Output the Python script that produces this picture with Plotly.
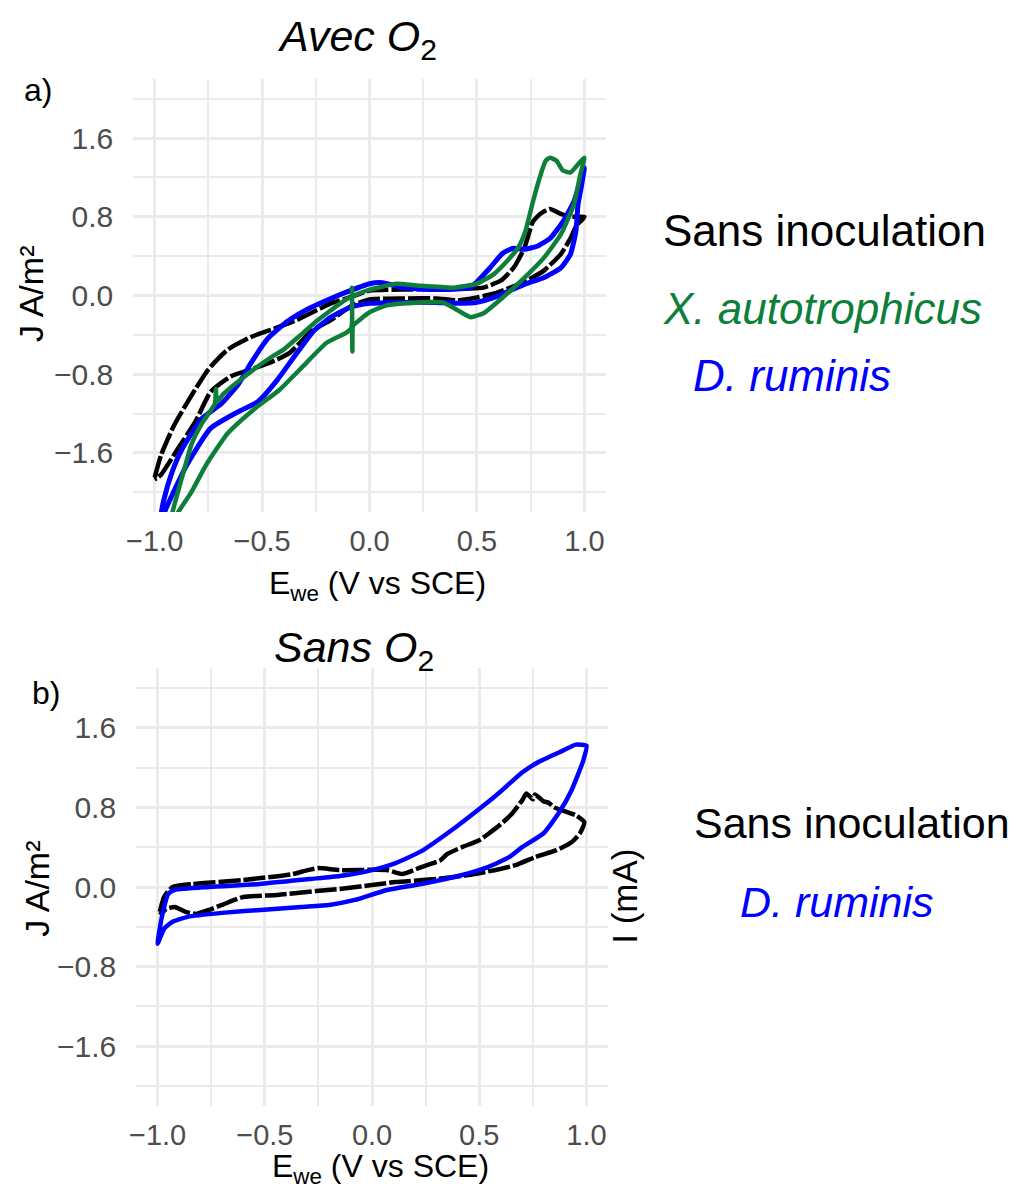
import plotly.graph_objects as go

# ---------------- data ----------------
# Panel a) "Avec O2"
E_a_sans = [-1.00, -0.97, -0.91, -0.83, -0.75, -0.66, -0.55, -0.46, -0.34, -0.18, -0.08, 0.00, 0.16, 0.39, 0.47, 0.53,
            0.61, 0.67, 0.72, 0.76, 0.795, 0.84, 0.89, 0.935, 0.97, 1.00,
            0.985, 0.965, 0.935, 0.89, 0.81, 0.73, 0.655, 0.58, 0.50, 0.41, 0.31, 0.16, 0.00, -0.08, -0.18, -0.27,
            -0.37, -0.46, -0.55, -0.645, -0.74, -0.81, -0.89, -0.97, -1.00]
J_a_sans = [-1.85, -1.62, -1.32, -1.02, -0.75, -0.55, -0.42, -0.35, -0.25, -0.08, -0.01, 0.05, 0.06, 0.07, 0.07, 0.08,
            0.15, 0.28, 0.48, 0.75, 0.83, 0.88, 0.83, 0.80, 0.80, 0.80,
            0.76, 0.72, 0.58, 0.42, 0.25, 0.15, 0.08, 0.02, -0.02, -0.05, -0.03, -0.03, -0.04, -0.10, -0.25, -0.36,
            -0.58, -0.68, -0.75, -0.82, -0.98, -1.28, -1.55, -1.82, -1.87]

E_a_xauto = [-0.935, -0.905, -0.86, -0.83, -0.78, -0.72, -0.715, -0.71, -0.68, -0.58, -0.46, -0.40, -0.32, -0.24,
             -0.18, -0.11, -0.05, 0.00, 0.04, 0.125, 0.23, 0.39, 0.50, 0.58, 0.64, 0.69, 0.725, 0.76, 0.795, 0.82,
             0.84, 0.87, 0.90, 0.935, 0.965, 1.00,
             0.98, 0.95, 0.89, 0.81, 0.72, 0.62, 0.53, 0.47, 0.41, 0.34, 0.23, 0.08, 0.00, -0.075, -0.078, -0.08,
             -0.082, -0.085, -0.11, -0.20, -0.31, -0.42, -0.54, -0.66, -0.76, -0.83, -0.89, -0.92]
J_a_xauto = [-2.35, -2.10, -1.75, -1.52, -1.30, -1.10, -0.95, -1.08, -1.00, -0.82, -0.63, -0.55, -0.40, -0.25,
             -0.15, -0.04, 0.02, 0.06, 0.08, 0.12, 0.10, 0.08, 0.12, 0.22, 0.35, 0.48, 0.65, 0.95, 1.22, 1.37,
             1.40, 1.37, 1.27, 1.25, 1.32, 1.40,
             1.22, 0.92, 0.62, 0.38, 0.18, -0.02, -0.18, -0.22, -0.15, -0.07, -0.07, -0.10, -0.17, -0.30, -0.31, -0.57,
             0.08, -0.33, -0.38, -0.48, -0.72, -0.96, -1.16, -1.40, -1.72, -2.00, -2.20, -2.35]

E_a_drum = [-0.98, -0.96, -0.92, -0.87, -0.78, -0.69, -0.61, -0.55, -0.475, -0.38, -0.28, -0.18, -0.09, 0.00, 0.06,
            0.156, 0.31, 0.47, 0.50, 0.56, 0.62, 0.67, 0.72, 0.78, 0.84, 0.90, 0.95, 0.98, 1.00,
            0.985, 0.97, 0.96, 0.935, 0.89, 0.81, 0.73, 0.655, 0.58, 0.50, 0.42, 0.31, 0.156, 0.00, -0.09, -0.18,
            -0.26, -0.35, -0.43, -0.52, -0.61, -0.74, -0.85, -0.95, -0.975]
J_a_drum = [-2.35, -2.10, -1.80, -1.55, -1.25, -1.10, -0.90, -0.68, -0.44, -0.26, -0.13, -0.03, 0.05, 0.12, 0.13,
            0.08, 0.06, 0.08, 0.14, 0.28, 0.43, 0.48, 0.47, 0.50, 0.58, 0.75, 0.95, 1.15, 1.30,
            1.10, 0.92, 0.65, 0.42, 0.28, 0.18, 0.12, 0.05, -0.02, -0.07, -0.08, -0.07, -0.07, -0.08, -0.12, -0.22,
            -0.36, -0.62, -0.86, -1.08, -1.18, -1.35, -1.72, -2.18, -2.35]

# Panel b) "Sans O2"
E_b_sans = [-0.99, -0.97, -0.93, -0.84, -0.60, -0.37, -0.30, -0.25, -0.15, 0.07, 0.14, 0.23, 0.32, 0.35, 0.42, 0.50,
            0.54, 0.60, 0.65, 0.70, 0.72, 0.75, 0.76, 0.80, 0.82, 0.85, 0.90, 0.95, 0.99,
            0.97, 0.93, 0.86, 0.76, 0.67, 0.48, 0.30, 0.11, 0.00, -0.15, -0.26, -0.44, -0.60, -0.70, -0.76, -0.82,
            -0.87, -0.92, -0.96, -0.99]
J_b_sans = [-0.25, -0.10, 0.00, 0.03, 0.07, 0.13, 0.17, 0.19, 0.17, 0.17, 0.13, 0.20, 0.27, 0.33, 0.40, 0.47,
            0.53, 0.63, 0.73, 0.87, 0.94, 0.88, 0.93, 0.86, 0.85, 0.80, 0.76, 0.72, 0.65,
            0.54, 0.45, 0.37, 0.30, 0.22, 0.13, 0.08, 0.05, 0.02, -0.02, -0.04, -0.08, -0.10, -0.18, -0.23, -0.27,
            -0.25, -0.20, -0.22, -0.28]

E_b_drum = [-1.00, -0.98, -0.95, -0.92, -0.76, -0.525, -0.29, -0.15, 0.00, 0.11, 0.23, 0.39, 0.51, 0.60, 0.70, 0.78,
            0.89, 0.95, 1.00,
            0.985, 0.93, 0.87, 0.80, 0.70, 0.64, 0.54, 0.42, 0.23, 0.07, -0.08, -0.20, -0.33, -0.52, -0.70, -0.86,
            -0.93, -0.97, -1.00]
J_b_drum = [-0.57, -0.30, -0.07, -0.03, 0.00, 0.03, 0.08, 0.11, 0.17, 0.24, 0.36, 0.60, 0.80, 0.96, 1.15, 1.26,
            1.37, 1.43, 1.42,
            1.27, 0.97, 0.74, 0.54, 0.40, 0.30, 0.20, 0.12, 0.03, -0.03, -0.13, -0.18, -0.20, -0.23, -0.26, -0.30,
            -0.35, -0.42, -0.57]

x_ticks = [-1.0, -0.5, 0.0, 0.5, 1.0]
x_minor = [-0.75, -0.25, 0.25, 0.75]
y_ticks = [-1.6, -0.8, 0.0, 0.8, 1.6]
y_minor = [-2.0, -1.2, -0.4, 0.4, 1.2, 2.0]

series_labels = ["Sans inoculation", "X. autotrophicus", "D. ruminis"]

# ---------------- style ----------------
W, H = 1019, 1194
FONT = "Liberation Sans, Arial, Helvetica, sans-serif"
C_BLACK = "#000000"
C_GREEN = "#0E7F3A"
C_BLUE = "#0000FF"
GRID = "#EBEBEB"
DASH_BLACK = "22px,3px"


def px(x):
    return x / W


def py(y):
    return 1 - y / H


fig = go.Figure()


def curve(E, J, color, width, xa, ya, dash="solid"):
    fig.add_trace(go.Scatter(x=E, y=J, mode="lines",
                             line=dict(color=color, width=width, dash=dash, shape="spline", smoothing=0.5),
                             xaxis=xa, yaxis=ya, showlegend=False, hoverinfo="skip"))


curve(E_a_sans, J_a_sans, C_BLACK, 4.5, "x", "y", DASH_BLACK)
curve(E_a_drum, J_a_drum, C_BLUE, 5, "x", "y")
curve(E_a_xauto, J_a_xauto, C_GREEN, 4.5, "x", "y")

curve(E_b_sans, J_b_sans, C_BLACK, 4.5, "x2", "y2", DASH_BLACK)
curve(E_b_drum, J_b_drum, C_BLUE, 4.5, "x2", "y2")


def xax(domain, anchor):
    return dict(domain=domain, anchor=anchor, range=[-1.1, 1.1], tickvals=x_ticks, tickformat=".1f",
                showgrid=True, gridcolor=GRID, gridwidth=2.8, zeroline=False, showline=False, ticks="",
                tickfont=dict(family=FONT, size=29, color="#4D4D4D"), ticklabelstandoff=9,
                minor=dict(tickvals=x_minor, showgrid=True, gridcolor=GRID, gridwidth=1.8))


def yax(domain, anchor):
    return dict(domain=domain, anchor=anchor, range=[-2.2, 2.2], tickvals=y_ticks, tickformat=".1f",
                showgrid=True, gridcolor=GRID, gridwidth=2.8, zeroline=False, showline=False, ticks="",
                tickfont=dict(family=FONT, size=30, color="#4D4D4D"), ticklabelstandoff=19,
                minor=dict(tickvals=y_minor, showgrid=True, gridcolor=GRID, gridwidth=1.8))


fig.update_layout(
    width=W, height=H,
    margin=dict(l=0, r=0, t=0, b=0),
    paper_bgcolor="white", plot_bgcolor="white",
    xaxis=xax([px(119), px(595)], "y"),
    yaxis=yax([py(504), py(71)], "x"),
    xaxis2=xax([px(122), px(597)], "y2"),
    yaxis2=yax([py(1098), py(660)], "x2"),
    showlegend=False,
)


def note(text, x, y, size, color="black", angle=0):
    fig.add_annotation(text=text, x=px(x), y=py(y), xref="paper", yref="paper", showarrow=False,
                       xanchor="center", yanchor="middle", textangle=angle,
                       font=dict(family=FONT, size=size, color=color))


# titles and labels
note("<i>Avec O</i><sub>2</sub>", 344, 31, 43)
note("a)", 23, 82, 32)
note("J A/m²", 16, 286, 34, angle=-90)
note("E<sub>we</sub> (V vs SCE)", 365, 577, 32)

note("<i>Sans O</i><sub>2</sub>", 341, 642, 43)
note("b)", 31, 685, 32)
note("J A/m²", 22, 881, 34, angle=-90)
note("E<sub>we</sub> (V vs SCE)", 368, 1160, 32)
note("I (mA)", 613, 888, 35, angle=-90)

# legends (coloured text)
note(series_labels[0], 815, 222, 44, C_BLACK)
note("<i>" + series_labels[1] + "</i>", 813, 300, 44, C_GREEN)
note("<i>" + series_labels[2] + "</i>", 782, 367, 44, C_BLUE)

note(series_labels[0], 843, 815, 43, C_BLACK)
note("<i>" + series_labels[2] + "</i>", 828, 894, 43, C_BLUE)

fig.write_html("out.html")
